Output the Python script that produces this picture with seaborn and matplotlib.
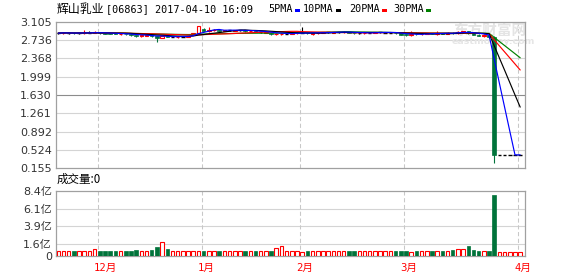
import numpy as np
import pandas as pd
import matplotlib
matplotlib.use('Agg')
import matplotlib.pyplot as plt
import matplotlib.transforms as mtransforms
from matplotlib.patches import Rectangle
import seaborn as sns

# ---------------- data ----------------
title_name = '辉山乳业'
title_info = '[06863] 2017-04-10 16:09'
ma_windows = [5, 10, 20, 30]
ma_labels = ['5PMA', '10PMA', '20PMA', '30PMA']
ma_colors = ['#0000ff', '#000000', '#ff0000', '#008000']

opens = [2.88, 2.88, 2.88, 2.89, 2.88, 2.88, 2.89, 2.88, 2.90, 2.89,
         2.88, 2.88, 2.86, 2.87, 2.86, 2.85, 2.82, 2.83, 2.84, 2.82,
         2.79, 2.82, 2.81, 2.80, 2.81, 2.81, 2.85, 2.89, 2.97, 2.93,
         2.94, 2.95, 2.93, 2.94, 2.93, 2.94, 2.94, 2.92, 2.93, 2.90,
         2.89, 2.89, 2.86, 2.86, 2.87, 2.87, 2.88, 2.89, 2.89, 2.87,
         2.88, 2.89, 2.90, 2.89, 2.90, 2.90, 2.91, 2.89, 2.88, 2.88,
         2.89, 2.89, 2.90, 2.89, 2.89, 2.89, 2.88, 2.86, 2.84, 2.87,
         2.86, 2.87, 2.88, 2.86, 2.88, 2.87, 2.89, 2.88, 2.91, 2.92,
         2.88, 2.85, 2.83, 2.84, 2.81, 0.42, 0.42, 0.42, 0.42, 0.42]
closes = [2.88, 2.89, 2.88, 2.88, 2.88, 2.89, 2.89, 2.90, 2.88, 2.87,
          2.87, 2.87, 2.87, 2.86, 2.84, 2.82, 2.84, 2.84, 2.82, 2.79,
          2.82, 2.81, 2.81, 2.81, 2.81, 2.82, 2.89, 3.02, 2.93, 2.94,
          2.95, 2.93, 2.94, 2.94, 2.94, 2.94, 2.92, 2.93, 2.91, 2.90,
          2.90, 2.86, 2.87, 2.87, 2.87, 2.88, 2.89, 2.89, 2.88, 2.88,
          2.89, 2.90, 2.90, 2.90, 2.90, 2.91, 2.89, 2.88, 2.88, 2.89,
          2.89, 2.90, 2.90, 2.89, 2.89, 2.88, 2.85, 2.84, 2.86, 2.86,
          2.87, 2.88, 2.87, 2.88, 2.87, 2.89, 2.88, 2.91, 2.92, 2.88,
          2.85, 2.83, 2.84, 2.81, 0.42, 0.42, 0.42, 0.42, 0.42, 0.42]
highs = [2.89, 2.90, 2.89, 2.89, 2.89, 2.95, 2.92, 2.92, 2.90, 2.89,
         2.88, 2.88, 2.88, 2.87, 2.86, 2.85, 2.85, 2.86, 2.84, 2.82,
         2.83, 2.82, 2.82, 2.82, 2.82, 2.83, 2.89, 3.02, 2.99, 3.00,
         2.96, 2.95, 2.95, 2.95, 2.95, 2.95, 2.94, 2.94, 2.93, 2.91,
         2.91, 2.89, 2.88, 2.88, 2.88, 2.89, 2.90, 3.00, 2.89, 2.90,
         2.90, 2.91, 2.91, 2.91, 2.91, 2.92, 2.91, 2.89, 2.89, 2.90,
         2.90, 2.91, 2.91, 2.90, 2.90, 2.89, 2.88, 2.86, 2.93, 2.87,
         2.88, 2.89, 2.88, 2.92, 2.88, 2.90, 2.90, 2.93, 2.93, 2.92,
         2.88, 2.86, 2.86, 2.84, 2.83, 0.42, 0.42, 0.42, 0.42, 0.42]
lows = [2.87, 2.87, 2.87, 2.87, 2.87, 2.87, 2.88, 2.88, 2.87, 2.86,
        2.86, 2.86, 2.85, 2.85, 2.83, 2.81, 2.81, 2.82, 2.81, 2.71,
        2.78, 2.80, 2.80, 2.79, 2.80, 2.80, 2.85, 2.88, 2.92, 2.91,
        2.93, 2.92, 2.92, 2.93, 2.92, 2.93, 2.91, 2.91, 2.90, 2.89,
        2.88, 2.85, 2.84, 2.85, 2.86, 2.86, 2.87, 2.88, 2.86, 2.84,
        2.87, 2.88, 2.89, 2.88, 2.89, 2.89, 2.88, 2.87, 2.87, 2.87,
        2.88, 2.88, 2.89, 2.88, 2.88, 2.87, 2.84, 2.82, 2.83, 2.85,
        2.85, 2.86, 2.86, 2.85, 2.86, 2.86, 2.87, 2.87, 2.89, 2.86,
        2.84, 2.82, 2.81, 2.79, 0.25, 0.42, 0.42, 0.42, 0.42, 0.42]
volumes = [0.62, 0.62, 0.62, 0.62, 0.62, 0.62, 0.62, 0.92, 0.62, 0.62,
           0.62, 0.62, 0.62, 0.62, 0.62, 0.79, 0.70, 0.62, 0.79, 1.20,
           1.84, 0.92, 0.62, 0.62, 0.62, 0.62, 0.62, 0.62, 0.62, 0.62,
           0.62, 0.62, 0.62, 0.70, 0.62, 0.62, 0.62, 0.62, 0.62, 0.62,
           0.62, 0.62, 1.05, 1.30, 0.62, 0.62, 0.62, 0.55, 0.62, 0.70,
           0.62, 0.62, 0.62, 0.62, 0.62, 0.62, 0.62, 0.62, 0.62, 0.62,
           0.62, 0.62, 0.62, 0.62, 0.62, 0.62, 0.62, 0.62, 0.55, 0.62,
           0.62, 0.62, 0.62, 0.62, 0.62, 0.62, 0.75, 0.95, 0.95, 1.30,
           0.75, 0.62, 0.70, 0.62, 7.90, 0.58, 0.58, 0.58, 0.58, 0.58]

price_ticks = [0.155, 0.524, 0.892, 1.261, 1.630, 1.999, 2.368, 2.736, 3.105]
price_tick_labels = ['0.155', '0.524', '0.892', '1.261', '1.630', '1.999', '2.368', '2.736', '3.105']
vol_ticks = [0, 1.6, 3.9, 6.1, 8.4]
vol_tick_labels = ['0', '1.6亿', '3.9亿', '6.1亿', '8.4亿']
month_idx = [8, 28, 47, 67, 89]
month_labels = ['12月', '1月', '2月', '3月', '4月']
vol_caption = '成交量:0'
watermark_cn = '东方财富网'
watermark_en = 'eastmoney.com'

# ---------------- style ----------------
sns.set_theme(style='white')
plt.rcParams['font.family'] = ['DejaVu Sans', 'Noto Sans CJK SC']

RED = '#ff0000'
GREEN = '#00733a'
GRID = '#d4d4d4'
FRAME = '#a0a0a0'
TXT = '#333333'

W, H = 578, 276
fig = plt.figure(figsize=(W / 100, H / 100), dpi=100)
fig.patch.set_facecolor('white')


def fx(px):
    return px / W


def fy(py):
    return 1 - py / H


L, R = 56, 525
ax_p = fig.add_axes([fx(L), fy(168), (R - L) / W, (168 - 22) / H])
ax_v = fig.add_axes([fx(L), fy(256), (R - L) / W, (256 - 191) / H])

n = len(closes)
x = np.arange(n)
o = np.array(opens)
c = np.array(closes)
h = np.array(highs)
lo = np.array(lows)
bw = 0.68
slot_px = 5.19
xlim = (-0.1, -0.1 + (R - L) / slot_px)

up = c > o
down = c < o
flat = c == o

for ax in (ax_p, ax_v):
    ax.set_facecolor('white')
    ax.set_xlim(*xlim)
    for s in ax.spines.values():
        s.set_color(FRAME)
        s.set_linewidth(0.9)
        s.set_visible(True)
    ax.set_xticks([])
    for m in month_idx:
        ax.axvline(m, color='#c8c8c8', lw=0.75, ls=(0, (4, 2.5)), zorder=0.6)
    ax.tick_params(axis='y', length=0, pad=3, labelsize=8, labelcolor=TXT)

# ---------------- price panel ----------------
ax_p.set_ylim(price_ticks[0], price_ticks[-1])
ax_p.set_yticks(price_ticks)
ax_p.set_yticklabels(price_tick_labels)
for t in price_ticks[1:-1]:
    ax_p.axhline(t, color='#8c8c8c' if abs(t - 1.630) < 1e-6 else GRID,
                 lw=0.8, zorder=0.5)

ax_p.text(fx(453), fy(31), watermark_cn, transform=fig.transFigure,
          family='Noto Sans CJK SC', fontsize=10.5, fontweight='bold',
          color='#e4e4e4', va='center', ha='left', zorder=0.7)
ax_p.text(fx(452), fy(42), watermark_en, transform=fig.transFigure,
          fontsize=6.8, fontweight='bold', color='#e6e6e6',
          va='center', ha='left', zorder=0.7)

wick_colors = np.where(up, RED, np.where(down, GREEN, 'black'))
ax_p.vlines(x + bw / 2, lo, h, colors=wick_colors, lw=0.8, zorder=2)
ax_p.bar(x[up], (c - o)[up], bottom=o[up], width=bw, align='edge',
         facecolor='white', edgecolor=RED, linewidth=0.8, zorder=3)
ax_p.bar(x[down], (o - c)[down], bottom=c[down], width=bw, align='edge',
         facecolor=GREEN, edgecolor=GREEN, linewidth=0.5, zorder=3)
ax_p.hlines(c[flat], x[flat], x[flat] + bw, colors='black', lw=1.0, zorder=3)

df = pd.DataFrame({'pos': x + bw / 2, 'close': c})
long = []
for wdw, lbl in zip(ma_windows, ma_labels):
    long.append(pd.DataFrame({'pos': df['pos'],
                              'value': df['close'].rolling(wdw, min_periods=1).mean(),
                              'ma': lbl}))
long = pd.concat(long, ignore_index=True)
sns.lineplot(data=long, x='pos', y='value', hue='ma', hue_order=ma_labels[::-1],
             palette=dict(zip(ma_labels, ma_colors)), estimator=None,
             legend=False, ax=ax_p, linewidth=0.85, zorder=4)
ax_p.set_xlabel('')
ax_p.set_ylabel('')
ax_p.set_xlim(*xlim)

# ---------------- volume panel ----------------
v = np.array(volumes)
vred = c >= o
ax_v.set_ylim(vol_ticks[0], vol_ticks[-1])
ax_v.set_yticks(vol_ticks)
ax_v.set_yticklabels(vol_tick_labels)
for t in vol_ticks[1:-1]:
    ax_v.axhline(t, color=GRID, lw=0.8, zorder=0.5)
ax_v.bar(x[vred], v[vred], width=bw, align='edge', facecolor='white',
         edgecolor=RED, linewidth=0.8, zorder=3)
ax_v.bar(x[~vred], v[~vred], width=bw, align='edge', facecolor=GREEN,
         edgecolor=GREEN, linewidth=0.5, zorder=3)

trans = mtransforms.blended_transform_factory(ax_v.transData, ax_v.transAxes)
trans = trans + mtransforms.ScaledTranslation(-4 / 100, 0, fig.dpi_scale_trans)
for m, lbl in zip(month_idx, month_labels):
    ax_v.text(m, -12 / 65, lbl, transform=trans, ha='left', va='center',
              color=RED, fontsize=7.6, family=['DejaVu Sans Mono', 'Noto Sans CJK SC'],
              clip_on=False)

# ---------------- header texts ----------------
fig.text(fx(57), fy(9.5), title_name, family='Noto Sans CJK SC', fontsize=8.6,
         va='center', ha='left', color='black')
fig.text(fx(106), fy(9.5), title_info, family='DejaVu Sans Mono', fontsize=7.3,
         va='center', ha='left', color='black')
legend_x = [268, 303, 349, 393]
for lbl, col, lx in zip(ma_labels, ma_colors, legend_x):
    fig.text(fx(lx), fy(9.5), lbl, family='DejaVu Sans Mono', fontsize=7.3,
             va='center', ha='left', color='black')
    sx = lx + len(lbl) * 6.08 + 3
    fig.patches.append(Rectangle((fx(sx), fy(12)), 5 / W, 3 / H,
                                 transform=fig.transFigure, facecolor=col,
                                 edgecolor='none'))

fig.text(fx(57), fy(179), vol_caption, family='Noto Sans CJK SC', fontsize=8.3,
         va='center', ha='left', color='black')

fig.savefig('out.png', dpi=100, facecolor='white')
